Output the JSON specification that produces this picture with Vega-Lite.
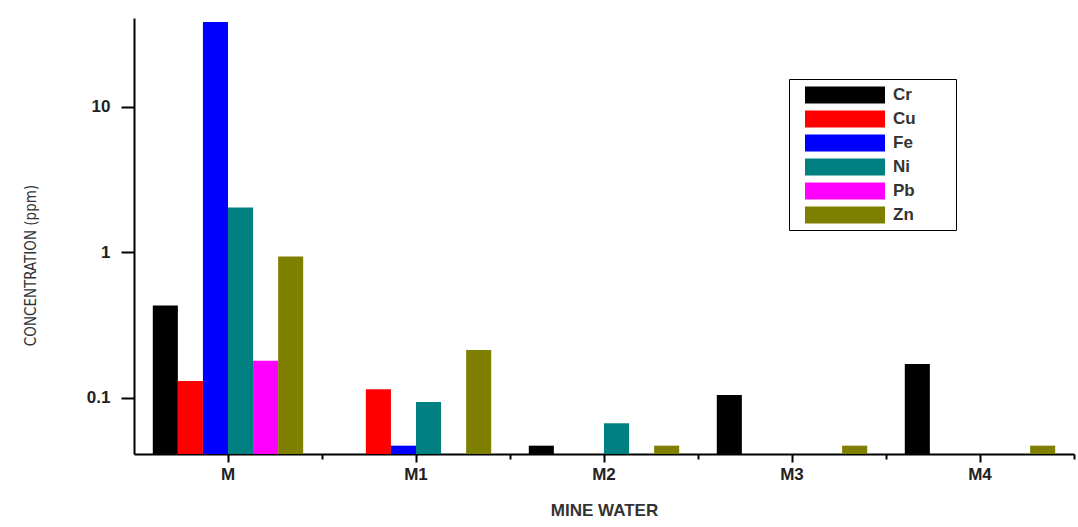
{
  "$schema": "https://vega.github.io/schema/vega-lite/v6.json",
  "width": 940,
  "height": 436,
  "autosize": "none",
  "padding": {"left": 134, "top": 18, "right": 4, "bottom": 73},
  "background": "white",
  "config": {"view": {"stroke": null}, "font": "Liberation Sans"},
  "data": {
    "values": [
      {"sample": "M", "element": "Cr", "ppm": 0.432},
      {"sample": "M", "element": "Cu", "ppm": 0.131},
      {"sample": "M", "element": "Fe", "ppm": 38.4},
      {"sample": "M", "element": "Ni", "ppm": 2.04},
      {"sample": "M", "element": "Pb", "ppm": 0.18},
      {"sample": "M", "element": "Zn", "ppm": 0.94},
      {"sample": "M1", "element": "Cu", "ppm": 0.115},
      {"sample": "M1", "element": "Fe", "ppm": 0.047},
      {"sample": "M1", "element": "Ni", "ppm": 0.094},
      {"sample": "M1", "element": "Zn", "ppm": 0.214},
      {"sample": "M2", "element": "Cr", "ppm": 0.047},
      {"sample": "M2", "element": "Ni", "ppm": 0.067},
      {"sample": "M2", "element": "Zn", "ppm": 0.047},
      {"sample": "M3", "element": "Cr", "ppm": 0.105},
      {"sample": "M3", "element": "Zn", "ppm": 0.047},
      {"sample": "M4", "element": "Cr", "ppm": 0.171},
      {"sample": "M4", "element": "Zn", "ppm": 0.047}
    ]
  },
  "resolve": {"scale": {"x": "independent"}, "axis": {"x": "independent"}},
  "layer": [
    {
      "mark": {"type": "bar"},
      "encoding": {
        "x": {
          "field": "sample",
          "type": "nominal",
          "sort": ["M", "M1", "M2", "M3", "M4"],
          "scale": {"paddingInner": 0.2, "paddingOuter": 0.1},
          "axis": {
            "orient": "bottom",
            "title": "MINE WATER",
            "labelAngle": 0,
            "labelFontSize": 17,
            "labelFontWeight": "bold",
            "labelColor": "#222",
            "labelPadding": 4,
            "domainColor": "black",
            "domainWidth": 2,
            "tickColor": "black",
            "tickWidth": 2,
            "tickSize": 8,
            "titleFontSize": 17,
            "titleFontWeight": "bold",
            "titleColor": "#333",
            "titleBaseline": "top",
            "titleY": 48
          }
        },
        "xOffset": {
          "field": "element",
          "type": "nominal",
          "sort": ["Cr", "Cu", "Fe", "Ni", "Pb", "Zn"],
          "scale": {"paddingInner": 0, "paddingOuter": 0}
        },
        "y": {
          "field": "ppm",
          "type": "quantitative",
          "stack": null,
          "scale": {"type": "log", "domain": [0.0412, 40.9], "nice": false},
          "axis": {
            "values": [0.1, 1, 10],
            "format": "~g",
            "grid": false,
            "labelFontSize": 17,
            "labelFontWeight": "bold",
            "labelColor": "#222",
            "labelPadding": 11,
            "domainColor": "black",
            "domainWidth": 2,
            "tickColor": "black",
            "tickWidth": 2,
            "tickSize": 13,
            "title": "CONCENTRATION (ppm)",
            "titleFont": "DejaVu Sans Condensed, Liberation Sans Narrow, Liberation Sans",
            "titleFontSize": 15,
            "titleFontWeight": "normal",
            "titleColor": "#333",
            "titleAngle": -90,
            "titleBaseline": "middle",
            "titleAlign": "center",
            "titleX": -104,
            "titleY": 247
          }
        },
        "color": {
          "field": "element",
          "type": "nominal",
          "scale": {
            "domain": ["Cr", "Cu", "Fe", "Ni", "Pb", "Zn"],
            "range": ["#000000", "#ff0000", "#0000ff", "#008080", "#ff00ff", "#808000"]
          },
          "legend": {
            "title": null,
            "orient": "none",
            "legendX": 655,
            "legendY": 61,
            "strokeColor": "black",
            "padding": 6,
            "rowPadding": 5,
            "symbolType": "M0,-0.85H8V0.85H0Z M14.5,0",
            "symbolSize": 400,
            "symbolStrokeWidth": 0,
            "labelOffset": 78,
            "labelFontSize": 17,
            "labelFontWeight": "bold",
            "labelColor": "#333"
          }
        }
      }
    },
    {
      "mark": {"type": "tick", "opacity": 0},
      "encoding": {
        "x": {
          "field": "sample",
          "type": "nominal",
          "sort": ["M", "M1", "M2", "M3", "M4"],
          "scale": {"paddingInner": 0, "paddingOuter": 0},
          "axis": {
            "orient": "bottom",
            "title": null,
            "labels": false,
            "domain": false,
            "bandPosition": 1,
            "tickColor": "black",
            "tickWidth": 2,
            "tickSize": 5
          }
        }
      }
    }
  ]
}
